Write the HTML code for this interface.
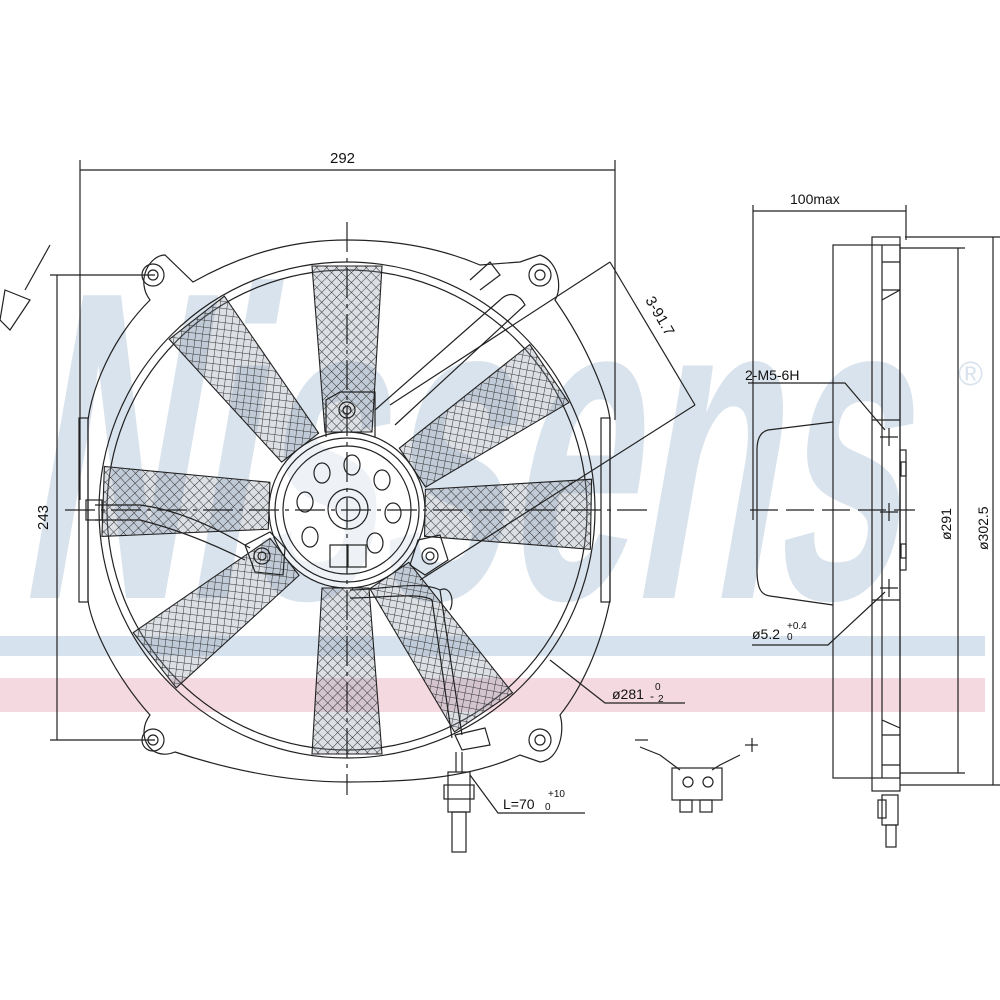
<!DOCTYPE html>
<html><head><meta charset="utf-8"><style>
html,body{margin:0;padding:0;background:#fff}
svg{display:block}
text{font-family:"Liberation Sans",sans-serif;fill:#111}
</style></head><body>
<svg width="1000" height="1000" viewBox="0 0 1000 1000" xmlns="http://www.w3.org/2000/svg">
<defs>
<pattern id="h" width="7" height="7" patternUnits="userSpaceOnUse" patternTransform="rotate(45)">
<rect width="7" height="7" fill="rgba(140,150,165,0.3)"/>
<path d="M0 0H7M0 0V7" stroke="#333" stroke-width="1"/>
</pattern>
</defs>
<!-- watermark -->
<g transform="translate(60,0) skewX(-10)">
<text x="60" y="598" font-size="440" font-weight="bold" textLength="880" lengthAdjust="spacingAndGlyphs" style="fill:#d9e3ed">Nissens</text>
</g>
<text x="958" y="385" font-size="34" style="fill:#d9e3ed">®</text>
<rect x="0" y="636" width="985" height="20" fill="#d6e2ee"/>
<rect x="0" y="678" width="985" height="34" fill="#f4d9e0"/>

<g stroke="#222" stroke-width="1.2" fill="none">
<line x1="80" y1="170" x2="615" y2="170"/>
<line x1="80" y1="160" x2="80" y2="500"/>
<line x1="615" y1="160" x2="615" y2="420"/>
<line x1="57" y1="275" x2="57" y2="740"/>
<line x1="50" y1="275" x2="155" y2="275"/>
<line x1="50" y1="740" x2="155" y2="740"/>
<path d="M193 282 C250 250 300 240 347 240 C395 240 440 248 480 265 L520 262 L540 255 C560 262 562 290 555 300 C590 350 608 400 610 420 L610 600 C600 650 580 690 560 715 C565 730 560 760 540 762 L520 755 C470 778 410 782 347 782 C290 782 230 770 175 752 C150 762 135 735 150 715 C110 670 90 620 88 600 L88 420 C92 390 110 340 150 300 C135 280 150 255 165 255 Z"/>
<circle cx="347" cy="510" r="248"/>
<circle cx="347" cy="510" r="240"/>
<g><circle cx="153" cy="275" r="11"/><circle cx="153" cy="275" r="5"/>
<circle cx="540" cy="275" r="11"/><circle cx="540" cy="275" r="5"/>
<circle cx="153" cy="740" r="11"/><circle cx="153" cy="740" r="5"/>
<circle cx="540" cy="740" r="11"/><circle cx="540" cy="740" r="5"/></g>
<rect x="79" y="418" width="9" height="184"/>
<rect x="601" y="418" width="9" height="184"/>
</g>

<g fill="url(#h)" stroke="#222" stroke-width="1.1">
<polygon points="325,432 372,432 382,266 312,266" transform="rotate(0 347 510)"/>
<polygon points="325,432 372,432 382,266 312,266" transform="rotate(56 347 510)"/>
<polygon points="325,432 372,432 382,266 312,266" transform="rotate(91 347 510)"/>
<polygon points="325,432 372,432 382,266 312,266" transform="rotate(146 347 510)"/>
<polygon points="325,432 372,432 382,266 312,266" transform="rotate(180 347 510)"/>
<polygon points="325,432 372,432 382,266 312,266" transform="rotate(232 347 510)"/>
<polygon points="325,432 372,432 382,266 312,266" transform="rotate(272 347 510)"/>
<polygon points="325,432 372,432 382,266 312,266" transform="rotate(322 347 510)"/>
</g>

<g stroke="#222" stroke-width="1.2" fill="none">
<circle cx="347" cy="510" r="78" fill="#fff" fill-opacity="0.55"/>
<circle cx="347" cy="510" r="72"/>
<circle cx="347" cy="510" r="64"/>
<circle cx="348" cy="509" r="20"/><circle cx="348" cy="509" r="12"/>
<g>
<ellipse cx="352" cy="465" rx="8" ry="10"/><ellipse cx="322" cy="473" rx="8" ry="10"/>
<ellipse cx="382" cy="480" rx="8" ry="10"/><ellipse cx="305" cy="502" rx="8" ry="10"/>
<ellipse cx="393" cy="513" rx="8" ry="10"/><ellipse cx="310" cy="537" rx="8" ry="10"/>
<ellipse cx="375" cy="543" rx="8" ry="10"/>
</g>
<rect x="330" y="545" width="36" height="22"/><line x1="348" y1="545" x2="348" y2="567"/>
<path d="M326 437 L326 400 L340 392 L375 392 L375 437"/>
<circle cx="347" cy="410" r="8"/><circle cx="347" cy="410" r="4"/>
<path d="M245 545 L270 532 L285 548 L283 575 L255 572 Z"/>
<circle cx="262" cy="556" r="8"/><circle cx="262" cy="556" r="4"/>
<path d="M418 540 L440 535 L448 560 L425 575 L410 565 Z"/>
<circle cx="430" cy="556" r="8"/><circle cx="430" cy="556" r="4"/>
<path d="M375 410 L500 300 C510 290 520 295 525 305 L395 425"/>
<path d="M470 280 L490 262 L500 275 L480 290"/>
<path d="M95 505 L140 505 C180 510 220 530 250 548"/>
<path d="M95 520 L140 520 C180 530 215 545 245 560"/>
<rect x="86" y="500" width="16" height="20"/>
<path d="M350 590 C380 590 420 580 440 590 L462 735"/>
<path d="M350 598 C380 598 420 592 432 600 L452 738"/>
<path d="M440 590 C450 585 455 600 450 610"/>
<path d="M455 735 L485 728 L490 745 L462 750 Z"/>
<rect x="448" y="772" width="22" height="40"/><rect x="444" y="785" width="30" height="14"/>
<rect x="452" y="812" width="14" height="40"/>
<line x1="456" y1="752" x2="456" y2="772"/><line x1="462" y1="752" x2="462" y2="772"/>
<line x1="65" y1="510" x2="650" y2="510" stroke-dasharray="30,6,4,6"/>
<line x1="347" y1="222" x2="347" y2="795" stroke-dasharray="30,6,4,6"/>
<line x1="610" y1="262" x2="695" y2="405"/>
<line x1="610" y1="262" x2="390" y2="405"/>
<line x1="695" y1="405" x2="420" y2="580"/>
<polyline points="550,660 605,703 685,703"/>
<polyline points="470,775 498,813 585,813"/>
<line x1="50" y1="245" x2="25" y2="290"/>
<polygon points="5,290 30,300 10,330 0,320"/>
</g>

<text x="330" y="163" font-size="15">292</text>
<text transform="translate(48,530) rotate(-90)" font-size="15">243</text>
<text transform="translate(645,300) rotate(60)" font-size="15">3-91.7</text>
<text x="612" y="699" font-size="14">ø281</text><text x="655" y="690" font-size="10">0</text><text x="650" y="700" font-size="12">-</text><text x="658" y="702" font-size="10">2</text>
<text x="503" y="809" font-size="14">L=70</text><text x="548" y="797" font-size="10">+10</text><text x="545" y="810" font-size="10">0</text>

<g stroke="#222" stroke-width="1.2" fill="none">
<line x1="635" y1="740" x2="648" y2="740"/>
<line x1="745" y1="745" x2="758" y2="745"/><line x1="752" y1="738" x2="752" y2="752"/>
<polyline points="640,747 660,755 680,770"/>
<polyline points="740,755 720,765 712,770"/>
<rect x="672" y="768" width="50" height="32"/>
<circle cx="688" cy="782" r="5"/><circle cx="708" cy="782" r="5"/>
<rect x="680" y="800" width="12" height="12"/><rect x="700" y="800" width="12" height="12"/>
</g>

<g stroke="#222" stroke-width="1.2" fill="none">
<line x1="753" y1="211" x2="906" y2="211"/>
<line x1="753" y1="205" x2="753" y2="520"/>
<line x1="906" y1="205" x2="906" y2="240"/>
<rect x="833" y="245" width="67" height="533"/>
<rect x="872" y="237" width="28" height="554"/>
<line x1="882" y1="245" x2="882" y2="778"/>
<line x1="882" y1="262" x2="900" y2="262"/><line x1="882" y1="290" x2="900" y2="290"/>
<line x1="882" y1="300" x2="900" y2="290"/>
<line x1="882" y1="735" x2="900" y2="735"/><line x1="882" y1="765" x2="900" y2="765"/>
<line x1="882" y1="720" x2="900" y2="728"/>
<line x1="872" y1="420" x2="900" y2="420"/><line x1="872" y1="600" x2="900" y2="600"/>
<rect x="900" y="450" width="6" height="120"/>
<rect x="901" y="462" width="5" height="14"/><rect x="901" y="544" width="5" height="14"/>
<path d="M833 422 L768 430 C760 432 757 440 757 450 L757 570 C757 590 762 595 770 596 L833 605"/>
<line x1="750" y1="510" x2="915" y2="510" stroke-dasharray="28,8"/>
<g><line x1="880" y1="437" x2="898" y2="437"/><line x1="889" y1="428" x2="889" y2="446"/>
<line x1="880" y1="512" x2="898" y2="512"/><line x1="889" y1="503" x2="889" y2="521"/>
<line x1="880" y1="588" x2="898" y2="588"/><line x1="889" y1="579" x2="889" y2="597"/></g>
<polyline points="748,383 845,383 885,430"/>
<polyline points="752,645 828,645 885,592"/>
<line x1="900" y1="248" x2="965" y2="248"/><line x1="900" y1="773" x2="965" y2="773"/>
<line x1="958" y1="248" x2="958" y2="773"/>
<line x1="905" y1="237" x2="1000" y2="237"/><line x1="900" y1="785" x2="1000" y2="785"/>
<line x1="993" y1="237" x2="993" y2="785"/>
<rect x="882" y="795" width="16" height="30"/><rect x="878" y="800" width="8" height="18"/>
<rect x="886" y="825" width="10" height="22"/>
</g>
<text x="790" y="204" font-size="14">100max</text>
<text x="745" y="380" font-size="14">2-M5-6H</text>
<text x="752" y="639" font-size="14">ø5.2</text><text x="787" y="629" font-size="10">+0.4</text><text x="787" y="640" font-size="10">0</text>
<text transform="translate(951,540) rotate(-90)" font-size="14">ø291</text>
<text transform="translate(988,550) rotate(-90)" font-size="14">ø302.5</text>
</svg>
</body></html>
